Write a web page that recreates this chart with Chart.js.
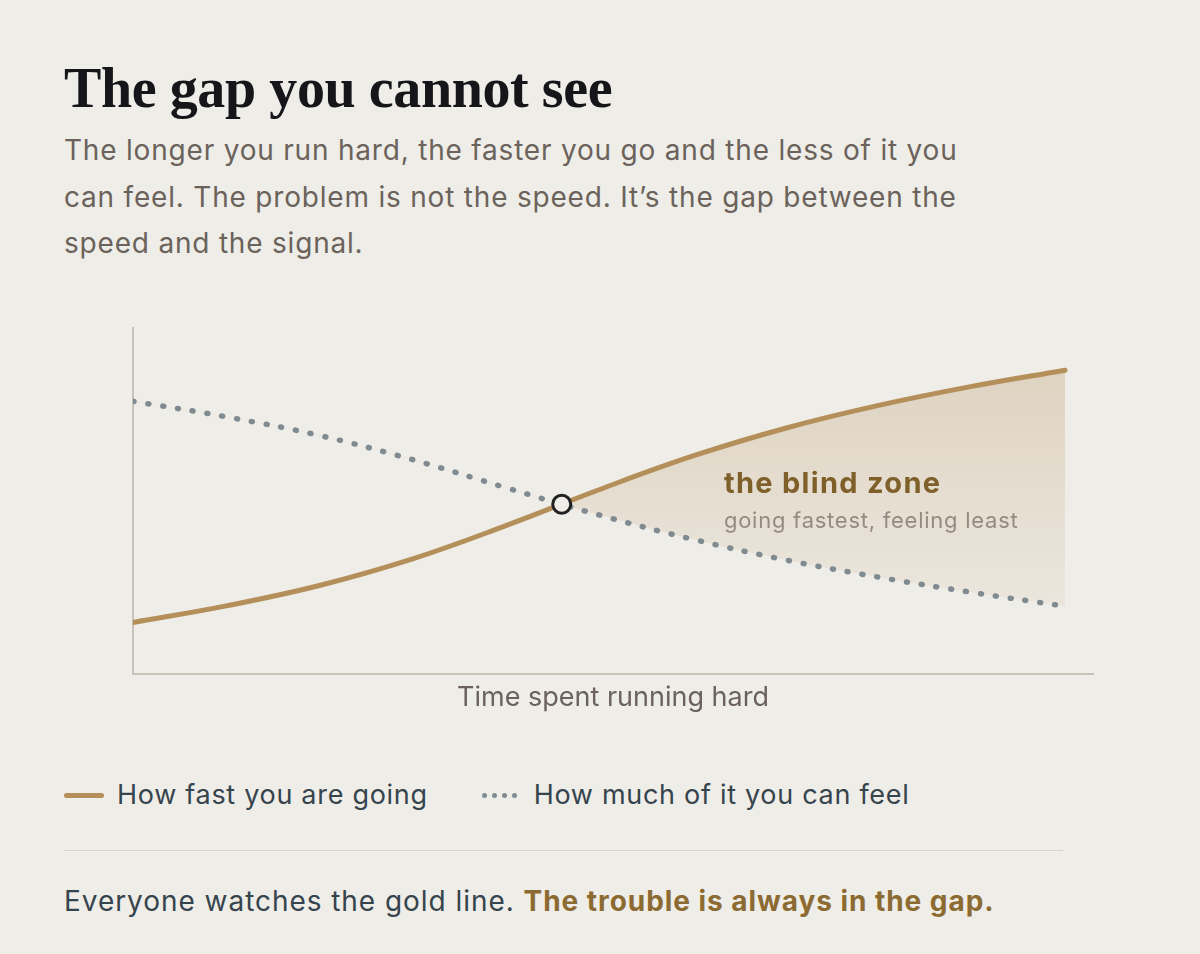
<!DOCTYPE html>
<html>
<head>
<meta charset="utf-8">
<script src="https://cdn.jsdelivr.net/npm/chart.js@4.4.1/dist/chart.umd.min.js"></script>
<style>
  html, body { margin: 0; padding: 0; }
  body {
    width: 1200px; height: 954px; background: #efede8; position: relative;
    font-family: Inter, "Noto Sans", sans-serif; overflow: hidden;
  }
  h1 {
    position: absolute; left: 64px; top: 56px; margin: 0;
    font-family: "Liberation Serif", "DejaVu Serif", serif; font-weight: 700;
    font-size: 56px; line-height: 64px; color: #16161a; letter-spacing: -0.4px;
  }
  .sub {
    position: absolute; left: 64px; top: 127px; margin: 0; width: 1000px;
    font-size: 28px; line-height: 46.5px; color: #6b635b; font-weight: 400; letter-spacing: 0.8px;
  }
  #wrap { position: absolute; left: 0; top: 310px; width: 1200px; height: 404px; }
  .legend {
    position: absolute; left: 64px; top: 776px; display: flex; align-items: center;
    font-size: 27px; color: #36444d; line-height: 38px; letter-spacing: 0.7px;
  }
  .legend .item { display: flex; align-items: center; margin-right: 54px; }
  .swatch-solid { width: 40px; height: 5px; border-radius: 3px; background: #b58f5a; margin-right: 13px; }
  .swatch-dots { display: flex; margin-right: 12px; }
  .swatch-dots span { width: 5px; height: 5px; border-radius: 50%; background: #7f8a91; margin-right: 5px; }
  .rule { position: absolute; left: 64px; top: 850px; width: 999px; height: 1px; background: #d9d4cb; }
  .foot {
    position: absolute; left: 64px; top: 881px; font-size: 28px; color: #36444d; line-height: 40px; letter-spacing: 0.95px;
  }
  .foot b { color: #8c6b33; font-weight: 700; }
</style>
</head>
<body>
<h1>The gap you cannot see</h1>
<p class="sub">The longer you run hard, the faster you go and the less of it you<br>can feel. The problem is not the speed. It’s the gap between the<br>speed and the signal.</p>
<div id="wrap"><canvas id="gapChart"></canvas></div>
<div class="legend">
  <div class="item"><div class="swatch-solid"></div>How fast you are going</div>
  <div class="item"><div class="swatch-dots"><span></span><span></span><span></span><span></span></div>How much of it you can feel</div>
</div>
<div class="rule"></div>
<div class="foot">Everyone watches the gold line. <b>The trouble is always in the gap.</b></div>

<script>
// time steps along the x axis (no tick labels shown)
const timeSteps = [0, 1, 2, 3, 4, 5, 6, 7, 8, 9, 10];
// how fast you are going
const speedValues = [14.8, 19.6, 25.5, 33.2, 42.8, 53.2, 62.9, 71.0, 77.6, 83.1, 87.8];
// how much of it you can feel
const feelValues = [78.8, 74.3, 68.9, 61.9, 53.8, 45.9, 38.9, 32.9, 27.9, 23.5, 19.5];
// where the two lines cross
const crossPoint = [{ x: 4.6, y: 49.0 }];

const gold = "#b58f5a";
const slate = "#7f8a91";

const toPoints = (vals) => vals.map((v, i) => ({ x: timeSteps[i], y: v }));

// text drawn inside the gap, anchored to data coordinates
const blindZoneLabel = {
  id: "blindZoneLabel",
  afterDatasetsDraw(chart) {
    const { ctx, scales } = chart;
    const x = scales.x.getPixelForValue(6.34);
    const y = scales.y.getPixelForValue(54.7);
    ctx.save();
    ctx.textAlign = "left";
    ctx.textBaseline = "middle";
    ctx.fillStyle = "#7f5f2a";
    ctx.font = "700 29px Inter, 'Noto Sans', sans-serif";
    ctx.letterSpacing = "1.3px";
    ctx.fillText("the blind zone", x, y);
    ctx.fillStyle = "#958b80";
    ctx.font = "400 22px Inter, 'Noto Sans', sans-serif";
    ctx.letterSpacing = "0.75px";
    ctx.fillText("going fastest, feeling least", x, y + 37);
    ctx.restore();
  },
};

const ctx = document.getElementById("gapChart").getContext("2d");

new Chart(ctx, {
  type: "line",
  data: {
    datasets: [
      {
        label: "Crossing",
        data: crossPoint,
        showLine: false,
        pointRadius: 9,
        pointBorderWidth: 3,
        pointBackgroundColor: "#efede8",
        pointBorderColor: "#222222",
        order: 0,
      },
      {
        label: "How fast you are going",
        data: toPoints(speedValues),
        borderColor: gold,
        borderWidth: 5,
        borderCapStyle: "round",
        tension: 0.4,
        pointRadius: 0,
        fill: {
          target: 2,
          above: (context) => {
            const area = context.chart.chartArea;
            if (!area) return "rgba(221,209,190,0.9)";
            const g = context.chart.ctx.createLinearGradient(0, area.top, 0, area.bottom);
            g.addColorStop(0, "#dcd0bc");
            g.addColorStop(0.8, "#ebe6dd");
            return g;
          },
          below: "rgba(0,0,0,0)",
        },
        order: 2,
      },
      {
        label: "How much of it you can feel",
        data: toPoints(feelValues),
        borderColor: slate,
        borderWidth: 5.5,
        borderCapStyle: "round",
        borderDash: [1, 14],
        tension: 0.4,
        pointRadius: 0,
        fill: false,
        order: 1,
      },
    ],
  },
  options: {
    responsive: true,
    maintainAspectRatio: false,
    animation: false,
    layout: { padding: { left: 133, right: 107, top: 18, bottom: 0 } },
    plugins: {
      legend: { display: false },
      tooltip: { enabled: false },
    },
    scales: {
      x: {
        type: "linear",
        min: 0,
        max: 10.3,
        ticks: { display: false },
        grid: { display: false, drawTicks: false },
        border: { display: true, color: "#c9c2b6", width: 2 },
        title: {
          display: true,
          text: "Time spent running hard",
          color: "#6b635b",
          font: { family: "Inter, 'Noto Sans', sans-serif", size: 27 },
          padding: { top: 8, bottom: 0 },
        },
      },
      y: {
        min: 0,
        max: 100,
        ticks: { display: false },
        grid: { display: false, drawTicks: false },
        border: { display: true, color: "#c9c2b6", width: 2 },
      },
    },
  },
  plugins: [blindZoneLabel],
});
</script>
</body>
</html>
